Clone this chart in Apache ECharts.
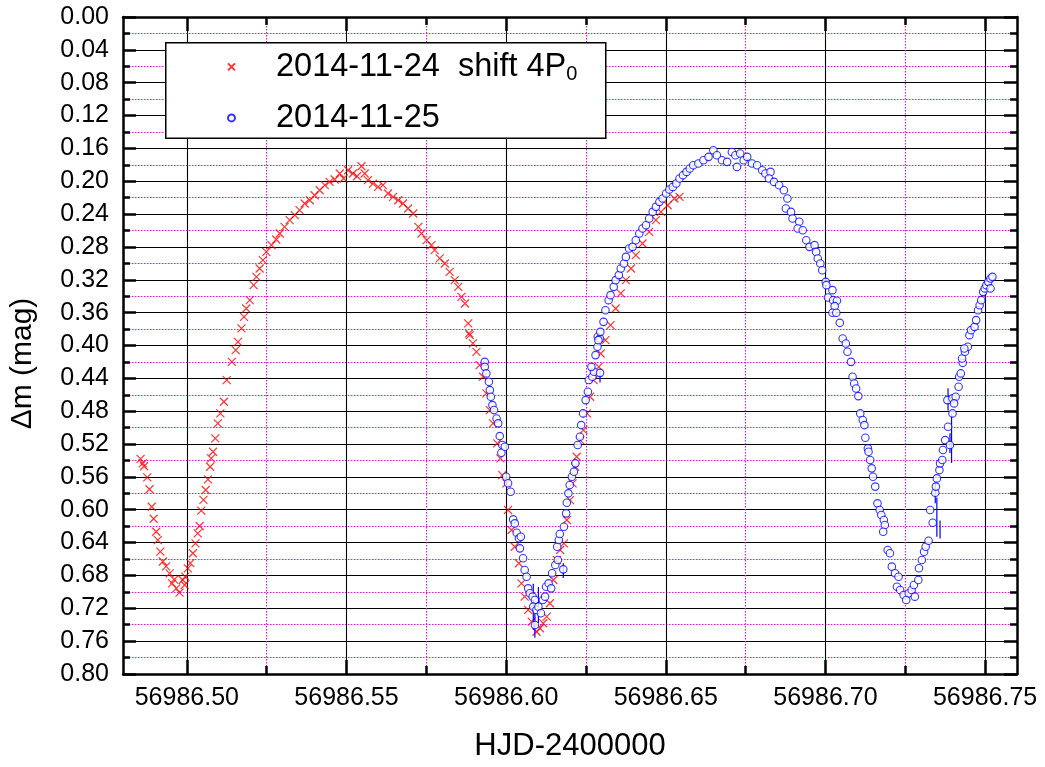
<!DOCTYPE html>
<html>
<head>
<meta charset="utf-8">
<script src="https://cdn.jsdelivr.net/npm/echarts@6/dist/echarts.min.js"></script>
<style>
html,body{margin:0;padding:0;background:#fff;}
#chart{width:1045px;height:767px;}
</style>
</head>
<body>
<div id="chart"></div>
<script>
// ---- data ----
const xMajorTicks = [56986.50, 56986.55, 56986.60, 56986.65, 56986.70, 56986.75];
const xMinorTicks = [56986.525, 56986.575, 56986.625, 56986.675, 56986.725];
const seriesNames = ['2014-11-24  shift 4P0', '2014-11-25'];

const redNov24 = [
[56986.4855,0.5380],[56986.4862,0.5435],[56986.4866,0.5470],[56986.4876,0.5606],[56986.4883,0.5750],
[56986.4890,0.5963],[56986.4896,0.6110],[56986.4904,0.6268],[56986.4909,0.6369],[56986.4917,0.6510],
[56986.4925,0.6630],[56986.4935,0.6690],[56986.4946,0.6775],[56986.4954,0.6896],[56986.4960,0.6850],
[56986.4967,0.6957],[56986.4977,0.7010],[56986.4987,0.6855],[56986.4993,0.6916],[56986.4995,0.6815],
[56986.5003,0.6713],[56986.5011,0.6650],[56986.5019,0.6530],[56986.5027,0.6410],[56986.5034,0.6287],
[56986.5040,0.6198],[56986.5045,0.6010],[56986.5052,0.5880],[56986.5059,0.5760],[56986.5066,0.5630],
[56986.5073,0.5476],[56986.5076,0.5374],[56986.5082,0.5294],[56986.5089,0.5130],[56986.5097,0.4948],
[56986.5105,0.4827],[56986.5116,0.4685],[56986.5125,0.4421],[56986.5141,0.4199],[56986.5153,0.4056],
[56986.5160,0.3955],[56986.5171,0.3792],[56986.5179,0.3651],[56986.5186,0.3549],[56986.5197,0.3448],
[56986.5209,0.3265],[56986.5218,0.3164],[56986.5228,0.3062],[56986.5238,0.2961],[56986.5249,0.2860],
[56986.5265,0.2778],[56986.5280,0.2709],[56986.5291,0.2636],[56986.5306,0.2556],[56986.5322,0.2474],
[56986.5338,0.2413],[56986.5353,0.2352],[56986.5369,0.2271],[56986.5385,0.2231],[56986.5400,0.2170],
[56986.5416,0.2109],[56986.5432,0.2048],[56986.5447,0.2008],[56986.5463,0.1979],[56986.5479,0.1906],
[56986.5491,0.1967],[56986.5505,0.1866],[56986.5520,0.1906],[56986.5533,0.1939],[56986.5547,0.1817],
[56986.5557,0.1906],[56986.5567,0.1987],[56986.5583,0.2028],[56986.5599,0.2069],[56986.5614,0.2048],
[56986.5630,0.2149],[56986.5646,0.2191],[56986.5662,0.2231],[56986.5677,0.2271],[56986.5693,0.2332],
[56986.5709,0.2393],[56986.5725,0.2556],[56986.5735,0.2636],[56986.5751,0.2717],[56986.5766,0.2778],
[56986.5776,0.2839],[56986.5792,0.2940],[56986.5808,0.3001],[56986.5823,0.3103],[56986.5839,0.3204],
[56986.5850,0.3286],[56986.5860,0.3408],[56986.5871,0.3488],[56986.5881,0.3731],[56986.5884,0.3853],
[56986.5886,0.3874],[56986.5896,0.3975],[56986.5907,0.4077],[56986.5917,0.4239],[56986.5928,0.4381],
[56986.5938,0.4583],[56986.5949,0.4786],[56986.5959,0.4948],[56986.5972,0.5192],[56986.5982,0.5374],
[56986.5988,0.5578],[56986.6001,0.5678],[56986.6006,0.6003],[56986.6017,0.6247],[56986.6027,0.6450],
[56986.6040,0.6652],[56986.6048,0.6896],[56986.6058,0.7058],[56986.6069,0.7220],[56986.6080,0.7363],
[56986.6095,0.7485],[56986.6106,0.7443],[56986.6116,0.7382],[56986.6127,0.7302],[56986.6137,0.7139],
[56986.6148,0.6855],[56986.6159,0.6612],[56986.6169,0.6490],[56986.6181,0.6410],[56986.6190,0.6125],
[56986.6200,0.5882],[56986.6208,0.5678],[56986.6216,0.5476],[56986.6221,0.5355],[56986.6232,0.5152],
[56986.6242,0.5030],[56986.6253,0.4827],[56986.6263,0.4624],[56986.6274,0.4421],[56986.6290,0.4260],
[56986.6296,0.4097],[56986.6311,0.3935],[56986.6327,0.3752],[56986.6343,0.3549],[56986.6359,0.3366],
[56986.6375,0.3204],[56986.6391,0.3062],[56986.6406,0.2900],[56986.6427,0.2758],[56986.6448,0.2616],
[56986.6469,0.2474],[56986.6485,0.2373],[56986.6506,0.2292],[56986.6527,0.2210],[56986.6543,0.2191]
];

const blueNov25 = [
[56986.5933,0.4199],[56986.5933,0.4260],[56986.5938,0.4340],[56986.5946,0.4442],[56986.5949,0.4543],
[56986.5952,0.4624],[56986.5957,0.4726],[56986.5962,0.4786],[56986.5970,0.4888],[56986.5975,0.4948],
[56986.5980,0.5103],[56986.5988,0.5212],[56986.5985,0.5306],[56986.5996,0.5233],[56986.6000,0.5598],
[56986.6006,0.5678],[56986.6014,0.5780],[56986.6022,0.6117],[56986.6027,0.6166],[56986.6033,0.6280],
[56986.6040,0.6348],[56986.6046,0.6328],[56986.6043,0.6470],[56986.6053,0.6591],[56986.6058,0.6734],
[56986.6064,0.6815],[56986.6069,0.6957],[56986.6074,0.7017],[56986.6083,0.7058],[56986.6090,0.7099],
[56986.6085,0.7180],[56986.6095,0.7220],[56986.6090,0.7403],[56986.6101,0.7180],[56986.6109,0.7261],
[56986.6115,0.7099],[56986.6122,0.7058],[56986.6125,0.6937],[56986.6133,0.6896],[56986.6141,0.6957],
[56986.6144,0.6774],[56986.6154,0.6673],[56986.6162,0.6612],[56986.6160,0.6450],[56986.6165,0.6369],
[56986.6168,0.6296],[56986.6179,0.6726],[56986.6181,0.6207],[56986.6188,0.6044],[56986.6190,0.5915],
[56986.6195,0.5800],[56986.6199,0.5699],[56986.6206,0.5598],[56986.6212,0.5537],[56986.6217,0.5435],
[56986.6224,0.5212],[56986.6231,0.5111],[56986.6235,0.4969],[56986.6241,0.4827],[56986.6249,0.4665],
[56986.6256,0.4563],[56986.6259,0.4421],[56986.6270,0.4381],[56986.6275,0.4320],[56986.6294,0.4333],
[56986.6267,0.4260],[56986.6280,0.4117],[56986.6286,0.4016],[56986.6287,0.3894],[56986.6294,0.3914],
[56986.6289,0.3935],[56986.6295,0.3834],[56986.6305,0.3712],[56986.6311,0.3570],[56986.6321,0.3448],
[56986.6327,0.3387],[56986.6337,0.3286],[56986.6343,0.3204],[56986.6353,0.3143],[56986.6359,0.3062],
[56986.6369,0.3001],[56986.6375,0.2921],[56986.6385,0.2819],[56986.6396,0.2799],[56986.6406,0.2718],
[56986.6417,0.2636],[56986.6427,0.2575],[56986.6438,0.2535],[56986.6448,0.2454],[56986.6459,0.2373],
[56986.6469,0.2312],[56986.6480,0.2251],[56986.6490,0.2210],[56986.6501,0.2149],[56986.6511,0.2101],
[56986.6522,0.2069],[56986.6533,0.2028],[56986.6543,0.1967],[56986.6554,0.1926],[56986.6565,0.1886],
[56986.6575,0.1845],[56986.6586,0.1805],[56986.6602,0.1784],[56986.6618,0.1744],[56986.6634,0.1703],
[56986.6649,0.1622],[56986.6660,0.1683],[56986.6676,0.1744],[56986.6692,0.1764],[56986.6707,0.1643],
[56986.6718,0.1683],[56986.6723,0.1825],[56986.6733,0.1663],[56986.6744,0.1744],[56986.6755,0.1703],
[56986.6770,0.1784],[56986.6786,0.1805],[56986.6802,0.1866],[56986.6812,0.1906],[56986.6828,0.1886],
[56986.6823,0.1967],[56986.6839,0.2008],[56986.6855,0.2048],[56986.6870,0.2109],[56986.6881,0.2210],
[56986.6876,0.2332],[56986.6892,0.2373],[56986.6897,0.2454],[56986.6918,0.2494],[56986.6913,0.2575],
[56986.6929,0.2596],[56986.6940,0.2718],[56986.6950,0.2799],[56986.6966,0.2778],[56986.6971,0.2860],
[56986.6976,0.2940],[56986.6984,0.3001],[56986.6990,0.3083],[56986.7001,0.3225],[56986.7003,0.3265],
[56986.7022,0.3326],[56986.7008,0.3415],[56986.7024,0.3448],[56986.7036,0.3456],[56986.7029,0.3521],
[56986.7022,0.3602],[56986.7034,0.3602],[56986.7045,0.3724],[56986.7054,0.3914],[56986.7064,0.3975],
[56986.7069,0.4077],[56986.7080,0.4199],[56986.7085,0.4381],[56986.7090,0.4462],[56986.7096,0.4523],
[56986.7103,0.4616],[56986.7109,0.4827],[56986.7117,0.4908],[56986.7122,0.4969],[56986.7125,0.5123],
[56986.7133,0.5253],[56986.7135,0.5294],[56986.7140,0.5395],[56986.7145,0.5496],[56986.7149,0.5598],
[56986.7156,0.5718],[56986.7163,0.5922],[56986.7170,0.6003],[56986.7175,0.6064],[56986.7183,0.6125],
[56986.7186,0.6186],[56986.7181,0.6268],[56986.7195,0.6490],[56986.7202,0.6530],[56986.7208,0.6693],
[56986.7218,0.6774],[56986.7229,0.6815],[56986.7224,0.6937],[56986.7234,0.6977],[56986.7245,0.7038],
[56986.7253,0.7099],[56986.7261,0.7017],[56986.7270,0.6977],[56986.7280,0.7058],[56986.7277,0.6916],
[56986.7291,0.6855],[56986.7293,0.6713],[56986.7302,0.6612],[56986.7309,0.6511],[56986.7314,0.6450],
[56986.7323,0.6377],[56986.7336,0.6158],[56986.7328,0.6003],[56986.7344,0.5793],[56986.7346,0.5718],
[56986.7349,0.5618],[56986.7357,0.5517],[56986.7359,0.5435],[56986.7366,0.5395],[56986.7368,0.5273],
[56986.7375,0.5152],[56986.7390,0.5212],[56986.7384,0.4990],[56986.7398,0.4827],[56986.7382,0.4665],
[56986.7398,0.4644],[56986.7408,0.4624],[56986.7403,0.4705],[56986.7417,0.4503],[56986.7419,0.4381],
[56986.7424,0.4340],[56986.7430,0.4211],[56986.7428,0.4158],[56986.7437,0.4077],[56986.7446,0.4016],
[56986.7435,0.4036],[56986.7451,0.3874],[56986.7456,0.3813],[56986.7467,0.3773],[56986.7472,0.3691],
[56986.7478,0.3570],[56986.7483,0.3509],[56986.7488,0.3448],[56986.7494,0.3347],[56986.7499,0.3305],
[56986.7504,0.3265],[56986.7510,0.3225],[56986.7517,0.3184],[56986.7523,0.3164],[56986.7517,0.3305]
];

// blue error bars: [x, low, high]
const blueErrors = [
[56986.6085,0.690,0.746],[56986.6101,0.694,0.738],[56986.6090,0.726,0.756],[56986.6179,0.665,0.683],
[56986.6294,0.430,0.445],[56986.7384,0.452,0.479],[56986.7395,0.483,0.543],[56986.7390,0.507,0.531],
[56986.7349,0.585,0.633],[56986.7359,0.613,0.635],[56986.7344,0.567,0.592]
];

// ---- chart ----
const FONT = 'Liberation Sans, Arial, Helvetica, sans-serif';
const XMIN = 56986.48, XMAX = 56986.76;
const MAG = '#ff00ff';

function xAxisDef(pos, ticks, tickLen, withLabels, split, splitStyle, showLine) {
  return {
    type: 'value', position: pos, min: XMIN, max: XMAX,
    axisLine: { show: showLine, onZero: false, lineStyle: { color: '#000', width: 2.5 } },
    axisTick: { show: true, inside: true, length: tickLen, customValues: ticks, lineStyle: { color: '#000', width: 2.5 } },
    axisLabel: withLabels ? {
      show: true, customValues: ticks, margin: 12, color: '#000', fontSize: 25, fontFamily: FONT,
      formatter: v => v.toFixed(2)
    } : { show: false },
    splitLine: { show: split, lineStyle: splitStyle },
    minorTick: { show: false }, minorSplitLine: { show: false }
  };
}

const xAxes = [
  Object.assign(xAxisDef('bottom', xMajorTicks, 14, true, true, { color: '#000', width: 1.1 }, true), {
    name: 'HJD-2400000', nameLocation: 'middle', nameGap: 57,
    nameTextStyle: { fontSize: 31, color: '#000', fontFamily: FONT }
  }),
  xAxisDef('bottom', xMinorTicks, 8, false, true, { color: MAG, width: 1, type: [1.5, 1.5] }, false),
  xAxisDef('top', xMajorTicks, 14, false, false, {}, true),
  xAxisDef('top', xMinorTicks, 8, false, false, {}, false)
];

function yAxisDef(pos, labels, grid) {
  return {
    type: 'value', position: pos, inverse: true, min: 0, max: 0.8, interval: 0.04,
    axisLine: { show: true, onZero: false, lineStyle: { color: '#000', width: 2.5 } },
    axisTick: { show: true, inside: true, length: 13, lineStyle: { color: '#000', width: 2.5 } },
    minorTick: { show: true, splitNumber: 2, length: 7, lineStyle: { color: '#000', width: 2.5 } },
    axisLabel: labels ? { show: true, margin: 14, color: '#000', fontSize: 25, fontFamily: FONT, formatter: v => v.toFixed(2) } : { show: false },
    splitLine: { show: grid, lineStyle: { color: '#000', width: 1.1 } },
    minorSplitLine: { show: grid, lineStyle: { color: MAG, width: 1, type: [1.5, 1.5] } }
  };
}

const yAxes = [
  Object.assign(yAxisDef('left', true, true), {
    name: 'Δm (mag)', nameLocation: 'middle', nameGap: 85,
    nameTextStyle: { fontSize: 30, color: '#000', fontFamily: FONT, padding: [0, 36, 0, 0] }
  }),
  yAxisDef('right', false, false)
];

const option = {
  animation: false,
  backgroundColor: '#fff',
  grid: { left: 123, right: 28, top: 17, bottom: 93, containLabel: false, outerBoundsMode: 'none' },
  xAxis: xAxes,
  yAxis: yAxes,
  // legend frame
  graphic: [{
    type: 'rect', left: 165, top: 42, z: 3,
    shape: { width: 440, height: 95.5 },
    style: { fill: '#fff', stroke: '#000', lineWidth: 1.5 }
  }],
  legend: {
    show: true, orient: 'vertical', left: 165, top: 33.7, z: 10,
    padding: [-4.4, 27, 3.7, 62], itemGap: 16.5,
    itemWidth: 7, itemHeight: 7,
    backgroundColor: 'transparent', borderWidth: 0,
    data: seriesNames,
    formatter: function (name) {
      if (name === seriesNames[0]) return '{a|2014-11-24  shift 4P}{s|0}';
      return '{a|' + name + '}';
    },
    textStyle: {
      color: '#000', fontSize: 32.5, fontFamily: FONT,
      rich: {
        a: { color: '#000', fontSize: 32.5, fontFamily: FONT, lineHeight: 36, verticalAlign: 'middle', padding: [0, 0, 0, 36] },
        s: { color: '#000', fontSize: 20, fontFamily: FONT, lineHeight: 20, verticalAlign: 'bottom', padding: [35.6, 0, 0, 0] }
      }
    }
  },
  series: [
    {
      name: seriesNames[0], type: 'scatter', xAxisIndex: 0, yAxisIndex: 0,
      symbol: 'path://M0,0L10,10M10,0L0,10', symbolSize: 8,
      itemStyle: { color: 'rgba(255,0,0,0)', borderColor: '#ff0000', borderWidth: 1.2 },
      data: redNov24, z: 3
    },
    {
      name: 'blueErr', type: 'custom', xAxisIndex: 0, yAxisIndex: 0,
      encode: { x: 0, y: [1, 2] },
      renderItem: function (params, api) {
        const p1 = api.coord([api.value(0), api.value(1)]);
        const p2 = api.coord([api.value(0), api.value(2)]);
        return { type: 'line', shape: { x1: p1[0], y1: p1[1], x2: p2[0], y2: p2[1] }, style: { stroke: '#0000ff', lineWidth: 1.2 } };
      },
      data: blueErrors, z: 4, silent: true
    },
    {
      name: seriesNames[1], type: 'scatter', xAxisIndex: 0, yAxisIndex: 0,
      symbol: 'circle', symbolSize: 7.5,
      itemStyle: { color: '#ffffff', borderColor: '#0000ff', borderWidth: 1.1 },
      data: blueNov25, z: 5
    }
  ]
};

const chart = echarts.init(document.getElementById('chart'), null, { renderer: 'canvas' });
chart.setOption(option);
</script>
</body>
</html>
